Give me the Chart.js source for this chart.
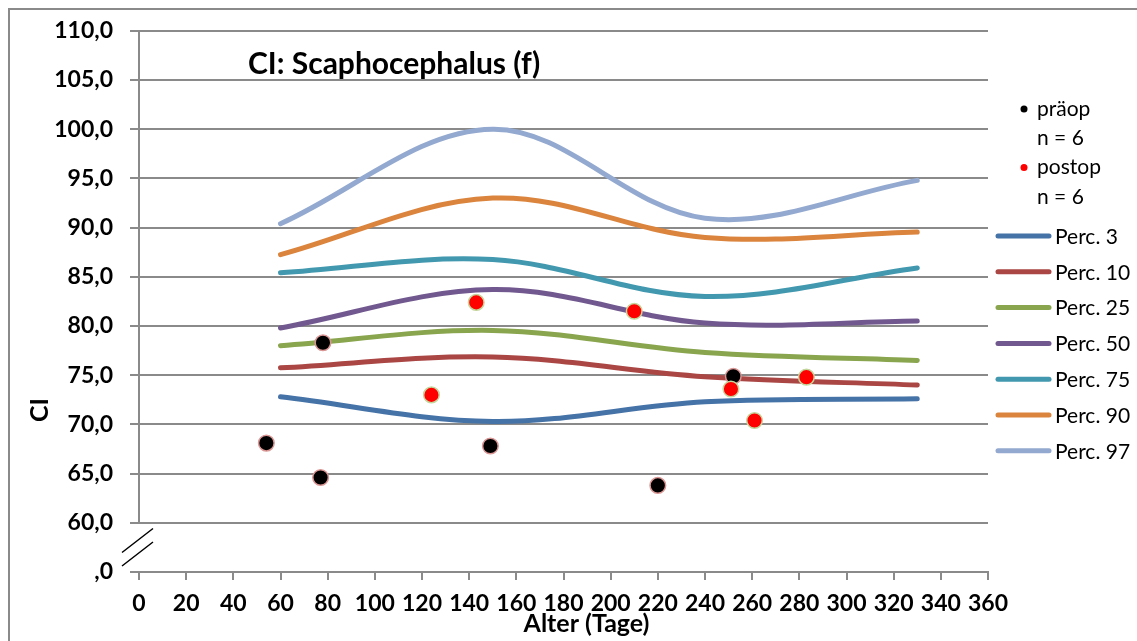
<!DOCTYPE html>
<html>
<head>
<meta charset="utf-8">
<script src="https://cdn.jsdelivr.net/npm/chart.js@4"></script>
<style>
  html, body { margin: 0; padding: 0; background: #fff; }
  canvas { display: block; }
</style>
</head>
<body>
<canvas id="chart" width="1137" height="641"></canvas>
<script>
// Cephalic index reference percentiles (girls) with pre- and post-operative measurements
const chartTitle = 'CI: Scaphocephalus (f)';
const xTitle = 'Alter (Tage)';
const yTitle = 'CI';

// percentile curves, sampled at these ages (days)
const ages = [60, 150, 240, 330];
const perc3  = [72.8, 70.3, 72.3, 72.6];
const perc10 = [75.75, 76.85, 74.85, 74.0];
const perc25 = [78.0, 79.55, 77.3, 76.5];
const perc50 = [79.8, 83.7, 80.3, 80.5];
const perc75 = [85.4, 86.75, 83.0, 85.9];
const perc90 = [87.25, 93.0, 89.0, 89.55];
const perc97 = [90.4, 100.0, 90.95, 94.8];
const percNames = ['Perc. 3', 'Perc. 10', 'Perc. 25', 'Perc. 50', 'Perc. 75', 'Perc. 90', 'Perc. 97'];
const percColors = ['#4572A7', '#AA4643', '#89A54E', '#71588F', '#4198AF', '#DB843D', '#93A9CF'];

// individual patients
const preopAge = [54, 77, 78, 149, 220, 252];
const preopCI  = [68.1, 64.6, 78.3, 67.8, 63.8, 74.9];
const postopAge = [124, 143, 210, 251, 261, 283];
const postopCI  = [73.0, 82.4, 81.5, 73.6, 70.4, 74.8];
const preopLabel = ['präop', 'n = 6'];
const postopLabel = ['postop', 'n = 6'];

// axis ticks
const xTicks = [0, 20, 40, 60, 80, 100, 120, 140, 160, 180, 200, 220, 240, 260, 280, 300, 320, 340, 360];
const yTicks = [55, 60, 65, 70, 75, 80, 85, 90, 95, 100, 105, 110];
const yBreakValue = 55;      // bottom of the broken axis, labelled as zero
const yAxisStart = 60;       // the axis line itself starts here

const FONT = 'Lato, "Open Sans", "DejaVu Sans", sans-serif';
const GRID = '#8a8a8a';

const percSeries = [perc3, perc10, perc25, perc50, perc75, perc90, perc97];
const lineDatasets = percSeries.map((vals, i) => ({
  type: 'line',
  label: percNames[i],
  data: ages.map((a, j) => ({ x: a, y: vals[j] })),
  borderColor: percColors[i],
  backgroundColor: percColors[i],
  borderWidth: 5,
  borderCapStyle: 'round',
  tension: 0.35,
  pointRadius: 0,
  pointHoverRadius: 0,
  fill: false,
  order: 10 + i
}));

const postopDataset = {
  type: 'scatter',
  label: postopLabel,
  data: postopAge.map((a, j) => ({ x: a, y: postopCI[j] })),
  backgroundColor: '#FF0000',
  borderColor: '#C3D69B',
  borderWidth: 1.5,
  pointRadius: 7.8,
  order: 0
};
const preopDataset = {
  type: 'scatter',
  label: preopLabel,
  data: preopAge.map((a, j) => ({ x: a, y: preopCI[j] })),
  backgroundColor: '#000000',
  borderColor: '#D99694',
  borderWidth: 1.5,
  pointRadius: 7.8,
  order: 1
};

const fmtY = v => v === yBreakValue ? ',0' : v.toFixed(1).replace('.', ',');

const decor = {
  id: 'decor',
  beforeDraw(chart) {
    const { ctx } = chart;
    ctx.save();
    ctx.fillStyle = '#fff';
    ctx.fillRect(0, 0, chart.width, chart.height);
    ctx.strokeStyle = '#8a8a8a';
    ctx.lineWidth = 2;
    ctx.strokeRect(9, 9, chart.width + 40, chart.height + 40);
    ctx.restore();
  },
  beforeDatasetsDraw(chart) {
    const { ctx, scales: { x, y } } = chart;
    const x0 = x.getPixelForValue(0);
    const yTop = y.getPixelForValue(yTicks[yTicks.length - 1]);
    const yStart = y.getPixelForValue(yAxisStart);
    const yBase = y.getPixelForValue(yBreakValue);
    ctx.save();
    // vertical axis line, interrupted below its first real value
    ctx.strokeStyle = GRID;
    ctx.lineWidth = 2;
    ctx.beginPath();
    ctx.moveTo(x0, yTop);
    ctx.lineTo(x0, yStart);
    ctx.stroke();
    // axis break marks
    ctx.strokeStyle = '#000';
    ctx.lineWidth = 1.5;
    ctx.beginPath();
    ctx.moveTo(x0 - 17, yBase - 19.5);
    ctx.lineTo(x0 + 14, yBase - 43.5);
    ctx.moveTo(x0 - 17, yBase - 6);
    ctx.lineTo(x0 + 14, yBase - 30);
    ctx.stroke();
    ctx.restore();
  },
  afterDraw(chart) {
    const { ctx, chartArea } = chart;
    ctx.save();
    ctx.fillStyle = '#000';
    // chart title
    ctx.font = 'bold 30px ' + FONT;
    ctx.textAlign = 'left';
    ctx.textBaseline = 'middle';
    ctx.fillText(chartTitle, 248, 64);
    // x axis title
    ctx.font = 'bold 25px ' + FONT;
    ctx.textAlign = 'center';
    ctx.fillText(xTitle, (chartArea.left + chartArea.right) / 2 + 23, 624);
    // y axis title
    ctx.save();
    ctx.translate(40, 410);
    ctx.rotate(-Math.PI / 2);
    ctx.fillText(yTitle, 0, 0);
    ctx.restore();

    // legend
    ctx.font = '21px ' + FONT;
    ctx.textAlign = 'left';
    const pts = [preopDataset, postopDataset];
    let ly = 109;
    pts.forEach(ds => {
      ctx.fillStyle = ds.backgroundColor;
      ctx.beginPath();
      ctx.arc(1024, ly, 3.5, 0, Math.PI * 2);
      ctx.fill();
      ctx.fillStyle = '#000';
      ds.label.forEach((t, k) => ctx.fillText(t, 1037, ly + k * 29.5));
      ly += 58.5;
    });
    lineDatasets.forEach((ds, i) => {
      const yy = 236 + i * 35.8;
      ctx.strokeStyle = ds.borderColor;
      ctx.lineWidth = 5;
      ctx.lineCap = 'round';
      ctx.beginPath();
      ctx.moveTo(998, yy);
      ctx.lineTo(1049, yy);
      ctx.stroke();
      ctx.fillStyle = '#000';
      ctx.fillText(ds.label, 1055, yy + 1);
    });
    ctx.restore();
  }
};

new Chart(document.getElementById('chart'), {
  data: { datasets: [postopDataset, preopDataset, ...lineDatasets] },
  options: {
    responsive: false,
    animation: false,
    devicePixelRatio: 1,
    layout: { padding: { left: 0, top: 25, right: 149, bottom: 0 } },
    plugins: { legend: { display: false }, title: { display: false }, tooltip: { enabled: false } },
    scales: {
      x: {
        type: 'linear',
        min: xTicks[0],
        max: xTicks[xTicks.length - 1],
        afterBuildTicks: s => { s.ticks = xTicks.map(v => ({ value: v })); },
        afterFit: s => { s.height = 69; },
        grid: { display: true, drawOnChartArea: false, drawTicks: true, tickLength: 8, color: GRID, lineWidth: 2 },
        border: { display: true, color: GRID, width: 2 },
        ticks: { color: '#000', font: { family: FONT, size: 23, weight: 'bold' }, padding: 10, maxRotation: 0, autoSkip: false }
      },
      y: {
        type: 'linear',
        min: yTicks[0],
        max: yTicks[yTicks.length - 1],
        afterBuildTicks: s => { s.ticks = yTicks.map(v => ({ value: v })); },
        afterFit: s => { s.width = 139; },
        grid: { display: true, drawOnChartArea: true, drawTicks: true, tickLength: 9, color: GRID, lineWidth: 2 },
        border: { display: false },
        ticks: { color: '#000', font: { family: FONT, size: 23, weight: 'bold' }, padding: 17, callback: fmtY, autoSkip: false }
      }
    }
  },
  plugins: [decor]
});
</script>
</body>
</html>
